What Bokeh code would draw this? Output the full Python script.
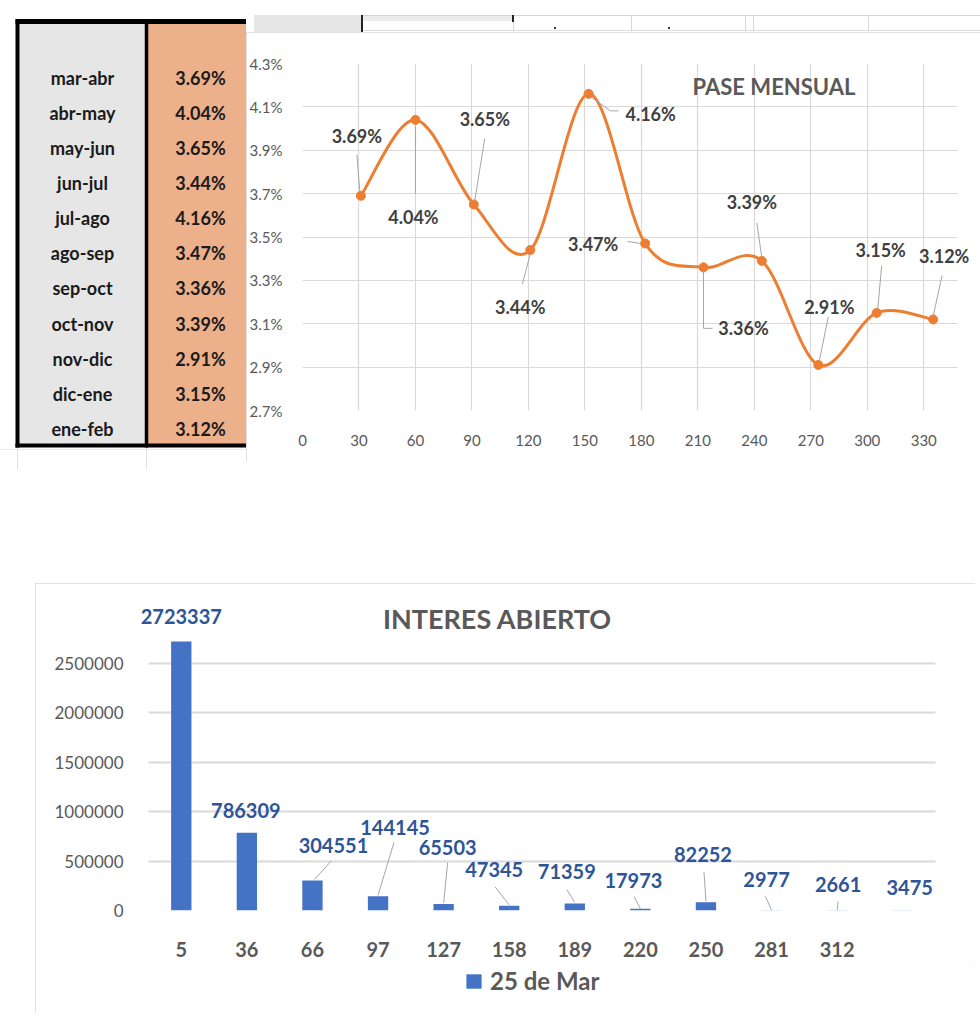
import numpy as np
from bokeh.plotting import figure
from bokeh.models import (Range1d, FactorRange, FixedTicker, PrintfTickFormatter, Label, LabelSet,
                          Legend, LegendItem, Spacer, ColumnDataSource, Div)
from bokeh.layouts import row, column
from bokeh.core.properties import value
from bokeh.embed import file_html
from bokeh.resources import INLINE

# ---------------- data ----------------
periods = ["mar-abr", "abr-may", "may-jun", "jun-jul", "jul-ago", "ago-sep",
           "sep-oct", "oct-nov", "nov-dic", "dic-ene", "ene-feb"]
pase_pct = [3.69, 4.04, 3.65, 3.44, 4.16, 3.47, 3.36, 3.39, 2.91, 3.15, 3.12]
pase_days = [31, 60, 91, 121, 152, 182, 213, 244, 274, 305, 335]
pase_xticks = [0, 30, 60, 90, 120, 150, 180, 210, 240, 270, 300, 330]
pase_yticks = [2.7, 2.9, 3.1, 3.3, 3.5, 3.7, 3.9, 4.1, 4.3]
pase_title = "PASE MENSUAL"

oi_categories = ["5", "36", "66", "97", "127", "158", "189", "220", "250", "281", "312", " "]
oi_values = [2723337, 786309, 304551, 144145, 65503, 47345, 71359, 17973, 82252, 2977, 2661, 3475]
oi_yticks = [0, 500000, 1000000, 1500000, 2000000, 2500000]
oi_series = "25 de Mar"
oi_title = "INTERES ABIERTO"

# ---------------- styles ----------------
FONT = "Lato"
GRID = "#d9d9d9"
AXIS_TXT = "#595959"
ORANGE = "#ED7D31"
BLUE = "#4472C4"
BAR_LBL = "#2E5597"
LEADER = "#a6a6a6"


def bare(fig):
    fig.grid.visible = False
    fig.outline_line_color = None
    return fig


# ================= table =================
T_W, T_H = 246, 470
ROW_H, ROW0 = 35.1, 42.2
tbl = bare(figure(width=T_W, height=T_H, x_range=Range1d(0, T_W), y_range=Range1d(T_H, 0),
                  x_axis_type=None, y_axis_type=None, output_backend="svg",
                  toolbar_location=None, min_border=0))
row_y = [ROW0 + ROW_H * (i + 1) for i in range(len(periods))]
tbl.quad(left=[19], right=[146], top=[21], bottom=[445], fill_color="#e7e6e6", line_color=None)
tbl.quad(left=[146], right=[T_W], top=[21], bottom=[445], fill_color="#ecb08a", line_color=None)
tbl.segment(x0=[146, 17], y0=[445, 445], x1=[146, 17], y1=[T_H, T_H], line_color="#e0e0e0", line_width=1)
tbl.segment(x0=[0], y0=[449], x1=[T_W], y1=[449], line_color="#ececec", line_width=1)
tbl.segment(x0=[15], y0=[21], x1=[T_W], y1=[21], line_color="black", line_width=5)
tbl.segment(x0=[15], y0=[445], x1=[T_W], y1=[445], line_color="black", line_width=4)
tbl.segment(x0=[17], y0=[19], x1=[17], y1=[447], line_color="black", line_width=4)
tbl.segment(x0=[146], y0=[19], x1=[146], y1=[447], line_color="black", line_width=3.5)
tsrc = ColumnDataSource(dict(y=row_y, lab=periods, val=[f"{v:.2f}%" for v in pase_pct]))
tbl.text(x=82, y="y", text="lab", source=tsrc, text_font=value(FONT), text_font_style="bold",
         text_font_size="18px", text_color="#1a1a1a", text_align="center", text_baseline="middle")
tbl.text(x=200, y="y", text="val", source=tsrc, text_font=value(FONT), text_font_style="bold",
         text_font_size="18px", text_color="#1a1a1a", text_align="center", text_baseline="middle")

# ================= spreadsheet strip above the line chart =================
C_W, C_H = 734, 430
HDR_H = 32


def box(l, t, w, h, bg):
    return (f'<div style="position:absolute;left:{l}px;top:{t}px;width:{w}px;'
            f'height:{h}px;background:{bg}"></div>')


strip = "".join([
    box(8, 15, 108, 17, "#e6e6e6"),
    box(116, 15, 151, 6, "#ececec"),
    box(116, 15, 618, 1, "#d4d4d4"),
    box(116, 30, 618, 1, "#dcdcdc"),
    box(267, 15, 1, 16, "#d9d9d9"), box(385, 15, 1, 16, "#d9d9d9"),
    box(499, 15, 1, 16, "#d9d9d9"), box(507, 15, 1, 16, "#d9d9d9"),
    box(622, 15, 1, 16, "#d9d9d9"),
    box(115, 15, 2, 17, "#222222"), box(266, 15, 2, 7, "#222222"),
    box(308, 27, 2, 2, "#333333"), box(422, 27, 2, 2, "#333333"),
])
hdr = Div(text=f'<div style="position:relative;width:{C_W}px;height:{HDR_H}px">{strip}</div>',
          width=C_W, height=HDR_H, margin=0)

# ================= line chart =================
CL, CR, CT, CB = 51, 5, 31, 52
X0, XMAX, Y0, Y1 = 0, 348, 2.7, 4.3
SX = 660 / (XMAX - X0)              # px per day
fw, fh = C_W - CL - CR, C_H - CT - CB
X1 = X0 + fw / SX
sx, sy = SX, fh / (Y1 - Y0)

ch = figure(width=C_W, height=C_H, x_range=Range1d(X0, X1), y_range=Range1d(Y0, Y1),
            min_border_left=CL, min_border_right=CR, min_border_top=CT, min_border_bottom=CB,
            output_backend="svg", toolbar_location=None)
ch.styles = {"outline": "1px solid #d9d9d9", "outline-offset": "-1px"}
ch.outline_line_color = None
ch.xaxis.ticker = FixedTicker(ticks=pase_xticks)
ch.yaxis.ticker = FixedTicker(ticks=pase_yticks)
ch.yaxis.formatter = PrintfTickFormatter(format="%.1f%%")
for ax in (ch.xaxis[0], ch.yaxis[0]):
    ax.axis_line_color = None
    ax.major_tick_line_color = None
    ax.minor_tick_line_color = None
    ax.major_label_text_font = FONT
    ax.major_label_text_font_size = "15px"
    ax.major_label_text_color = AXIS_TXT
ch.xaxis.major_label_standoff = 18
ch.yaxis.major_label_standoff = 14
ch.xgrid.grid_line_color = GRID
ch.ygrid.grid_line_color = GRID
ch.xgrid.grid_line_width = 1.2
ch.ygrid.grid_line_width = 1.2
ch.ygrid.cross_bounds = (X0, XMAX)

# smoothed line (Catmull-Rom style Bezier through the data points)
P = np.column_stack([pase_days, pase_pct]).astype(float)
ext = np.vstack([P[0], P, P[-1]])
n = len(P)
c0 = P[:-1] + (ext[2:n + 1] - ext[0:n - 1]) / 6.0
c1 = P[1:] - (ext[3:n + 2] - ext[1:n]) / 6.0
ch.bezier(x0=P[:-1, 0], y0=P[:-1, 1], x1=P[1:, 0], y1=P[1:, 1],
          cx0=c0[:, 0], cy0=c0[:, 1], cx1=c1[:, 0], cy1=c1[:, 1],
          line_color=ORANGE, line_width=3)
ch.scatter(x=pase_days, y=pase_pct, size=9, fill_color=ORANGE, line_color=ORANGE)

# data labels (pixel offsets from each point, y downwards)
lbl_dx = [-4, -2, 11, -10, 62, -52, 40, -10, 11, 4, 11]
lbl_dy = [-60, 97, -85, 57, 20, 0, 61, -59, -58, -63, -63]
leaders = [
    [(-1, -4), (-4, -41)],
    [(0, 6), (0, 74)],
    [(1, -4), (11, -66)],
    [(0, 4), (-8, 34)],
    [(2, 3), (22, 17), (30, 17)],
    [(-4, 0), (-18, -2)],
    [(0, 4), (0, 61), (9, 61)],
    [(0, -3), (-5, -38)],
    [(1, -4), (10, -48)],
    [(1, -3), (5, -47)],
    [(0, -3), (9, -44)],
]
lx = [[d + ox / sx for ox, oy in pts] for d, pts in zip(pase_days, leaders)]
ly = [[v - oy / sy for ox, oy in pts] for v, pts in zip(pase_pct, leaders)]
ch.multi_line(xs=lx, ys=ly, line_color=LEADER, line_width=1)
csrc = ColumnDataSource(dict(x=pase_days, y=pase_pct, t=[f"{v:.2f}%" for v in pase_pct],
                             dx=lbl_dx, dy=[-d for d in lbl_dy]))
ch.add_layout(LabelSet(x="x", y="y", text="t", source=csrc, x_offset="dx", y_offset="dy",
                       text_font=value(FONT), text_font_style="bold", text_font_size="18px",
                       text_color="#404040", text_align="center", text_baseline="middle"))
ch.add_layout(Label(x=X0 + 475 / sx, y=Y1 - 23 / sy, text=pase_title, text_font=FONT,
                    text_font_style="bold", text_font_size="22px", text_color=AXIS_TXT,
                    text_align="center", text_baseline="middle"))

# ================= bar chart =================
B_W, BC_H, LG_H = 940, 380, 50
BL, BR, BT, BB = 101, 28, 17, 48
PAD_PX = 12                          # extra room left/right of the categories
bfw, bfh = B_W - BL - BR, BC_H - BT - BB
cat_px = (bfw - 2 * PAD_PX) / len(oi_categories)
PX_PER_500K = 50.2
y_end = bfh / PX_PER_500K * 500000
bpu = bfh / y_end

bc = figure(width=B_W, height=BC_H,
            x_range=FactorRange(factors=oi_categories, range_padding=PAD_PX / cat_px,
                                range_padding_units="absolute"),
            y_range=Range1d(0, y_end),
            min_border_left=BL, min_border_right=BR, min_border_top=BT, min_border_bottom=BB,
            output_backend="svg", toolbar_location=None)
bc.outline_line_color = None
bars = bc.vbar(x=oi_categories, top=oi_values, width=0.31, fill_color=BLUE, line_color=None)
bc.yaxis.ticker = FixedTicker(ticks=oi_yticks)
bc.yaxis.formatter = PrintfTickFormatter(format="%d")
bc.xgrid.grid_line_color = None
bc.ygrid.grid_line_color = GRID
bc.ygrid.grid_line_width = 2
bc.ygrid.cross_bounds = (0, len(oi_categories))
for ax in (bc.xaxis[0], bc.yaxis[0]):
    ax.axis_line_color = None
    ax.major_tick_line_color = None
    ax.minor_tick_line_color = None
    ax.major_label_text_font = FONT
    ax.major_label_text_color = AXIS_TXT
bc.yaxis.major_label_text_font_size = "17px"
bc.yaxis.major_label_standoff = 7
bc.xaxis.major_label_text_font_size = "20px"
bc.xaxis.major_label_text_font_style = "bold"
bc.xaxis.major_label_standoff = 20

oi_dx = [0, -1, 21, 17, 4, -15, -8, -7, -3, -5, 1, 7]
oi_dy = [-25, -22, -35, -69, -57, -36, -32, -28, -48, -31, -26, -23]
oi_leaders = [None, None, [(2, -1), (19, -20)], [(0, -1), (16, -55)], [(0, -1), (4, -42)],
              [(0, -1), (-14, -19)], [(0, -1), (-8, -14)], [(0, 0), (-6, -12)],
              [(0, -1), (-2, -31)], [(0, 0), (-6, -14)], [(0, 0), (1, -9)], None]
oi_pos = [i + 0.5 for i in range(len(oi_categories))]
blx, bly = [], []
for xc, v, pts in zip(oi_pos, oi_values, oi_leaders):
    if pts is None:
        continue
    blx.append([xc + ox / cat_px for ox, oy in pts])
    bly.append([v - oy / bpu for ox, oy in pts])
bc.multi_line(xs=blx, ys=bly, line_color=LEADER, line_width=1)
bsrc = ColumnDataSource(dict(x=oi_pos, y=oi_values, t=[str(v) for v in oi_values],
                             dx=oi_dx, dy=[-d for d in oi_dy]))
bc.add_layout(LabelSet(x="x", y="y", text="t", source=bsrc, x_offset="dx", y_offset="dy",
                       text_font=value(FONT), text_font_style="bold", text_font_size="20px",
                       text_color=BAR_LBL, text_align="center", text_baseline="middle"))
bc.add_layout(Label(x=349 / cat_px, y=y_end - 18 / bpu, text=oi_title, text_font=FONT,
                    text_font_style="bold", text_font_size="27px", text_color=AXIS_TXT,
                    text_align="center", text_baseline="middle"))

# legend strip under the bar chart (its frame is aligned with the bar chart's frame)
lf = bare(figure(width=B_W, height=LG_H, x_range=Range1d(0, 1), y_range=Range1d(0, 1),
                 x_axis_type=None, y_axis_type=None, output_backend="svg",
                 toolbar_location=None, min_border=0))
swatch = lf.vbar(x=[0.5], top=[0], bottom=[0], width=0.3, fill_color=BLUE, line_color=None)
legend = Legend(items=[LegendItem(label=oi_series, renderers=[swatch])], location=(328, 18),
                orientation="horizontal", label_text_font=FONT, label_text_font_style="bold",
                label_text_font_size="24px", label_text_color=AXIS_TXT, glyph_width=19,
                glyph_height=18, label_standoff=7, margin=0, padding=3,
                border_line_color=None, background_fill_alpha=0)
lf.add_layout(legend)

bottom_panel = column(bc, lf)
bottom_panel.styles = {"outline": "1px solid #d9d9d9", "outline-offset": "-1px"}

# ================= layout =================
top = row(tbl, column(hdr, ch))
bottom = row(Spacer(width=35, height=BC_H + LG_H), bottom_panel)
page = column(top, Spacer(width=980, height=113), bottom)

open("out.html", "w").write(file_html(page, INLINE))
